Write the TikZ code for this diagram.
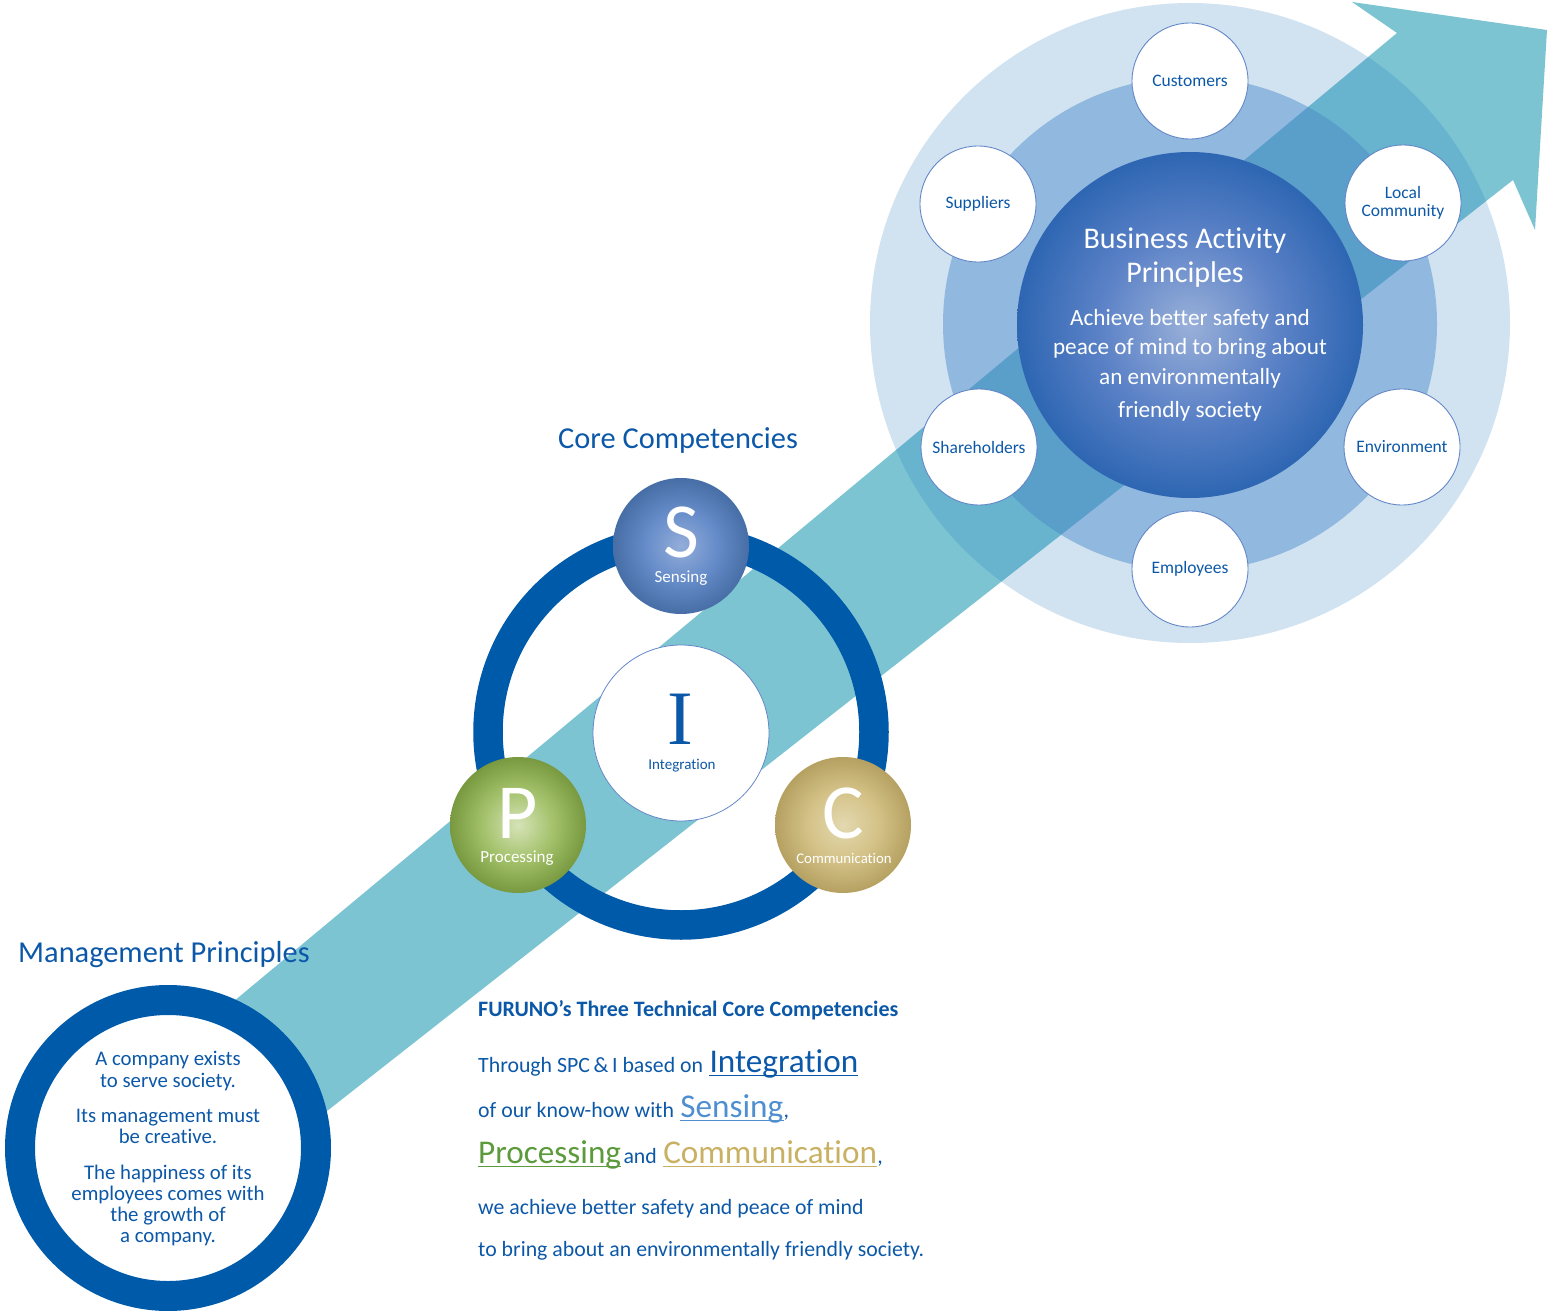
\documentclass[tikz,border=0pt]{standalone}
\usepackage{fontspec}
\setmainfont{Carlito}[Ligatures=NoCommon]
\newfontfamily\serifI{Liberation Serif}

\definecolor{ringblue}{RGB}{0,90,170}
\definecolor{txtblue}{RGB}{12,88,168}
\definecolor{arrowcyan}{RGB}{125,196,211}
\definecolor{outerring}{RGB}{23,115,185}
\definecolor{midring}{RGB}{75,135,200}
\definecolor{edgeblue}{RGB}{100,135,200}
\definecolor{senseblue}{RGB}{79,143,208}
\definecolor{procgreen}{RGB}{92,154,60}
\definecolor{commgold}{RGB}{201,177,99}

% ball shadings
\pgfdeclareradialshading{sensingball}{\pgfpoint{0bp}{0bp}}{rgb(0bp)=(0.58,0.68,0.85); rgb(13bp)=(0.40,0.55,0.79); rgb(25bp)=(0.28,0.43,0.65); rgb(50bp)=(0.28,0.43,0.65)}
\pgfdeclareradialshading{processball}{\pgfpoint{0bp}{0bp}}{rgb(0bp)=(0.84,0.89,0.72); rgb(13bp)=(0.64,0.76,0.42); rgb(25bp)=(0.47,0.60,0.25); rgb(50bp)=(0.47,0.60,0.25)}
\pgfdeclareradialshading{commball}{\pgfpoint{0bp}{0bp}}{rgb(0bp)=(0.89,0.85,0.69); rgb(13bp)=(0.83,0.76,0.53); rgb(25bp)=(0.71,0.63,0.38); rgb(50bp)=(0.71,0.63,0.38)}
\pgfdeclareradialshading{bizball}{\pgfpoint{0bp}{0bp}}{rgb(0bp)=(0.60,0.69,0.85); rgb(13bp)=(0.36,0.51,0.78); rgb(25bp)=(0.18,0.40,0.70); rgb(50bp)=(0.18,0.40,0.70)}

\begin{document}
\begin{tikzpicture}[x=1pt, y=-1pt,
    stake/.style={circle, fill=white, draw=edgeblue, line width=0.9pt, minimum size=116pt,
      inner sep=0pt, align=center, text=txtblue, font=\fontsize{17.5}{20}\selectfont},
    ball/.style={circle, minimum size=136pt, inner sep=0pt},
    bigletter/.style={anchor=base, text=white, inner sep=0pt, text height=50pt, text depth=0pt,
      font=\fontsize{78}{78}\selectfont},
    balllabel/.style={anchor=base, text=white, inner sep=0pt, text height=11pt, text depth=3pt,
      font=\fontsize{17}{18}\selectfont},
    biztext/.style={anchor=base, text=white, inner sep=0pt, font=\fontsize{23.2}{24}\selectfont},
    mgmttext/.style={anchor=base, text=txtblue, inner sep=0pt, font=\fontsize{20.8}{22}\selectfont},
    bodytext/.style={anchor=base west, text=txtblue, inner sep=0pt, font=\fontsize{21.8}{24}\selectfont},
    bigword/.style={anchor=base west, inner sep=0pt, font=\fontsize{33.2}{34}\selectfont},
    titletext/.style={anchor=base west, text=txtblue, inner sep=0pt, font=\fontsize{30.4}{32}\selectfont}]
  \useasboundingbox (0,0) rectangle (1551,1311);

  % Big arrow
  \fill[arrowcyan] (150,1071) -- (1397,33) -- (1352,2) -- (1547,30) -- (1535,230)
    -- (1513,180) -- (150,1250) -- cycle;

  % Business activity rings
  \fill[outerring, fill opacity=0.2] (1190,323) circle[radius=320];
  \fill[midring, fill opacity=0.47] (1190,324) circle[radius=247];
  \node[circle, minimum size=346pt, inner sep=0pt, shading=bizball] (bizBall) at (1190,325) {};

  \node[biztext, font=\fontsize{30}{32}\selectfont] (bizTitleA) at (1185,248) {Business Activity};
  \node[biztext, font=\fontsize{30}{32}\selectfont] (bizTitleB) at (1185,282) {Principles};
  \node[biztext] (bizLineA) at (1190,325) {Achieve better safety and};
  \node[biztext] (bizLineB) at (1190,354) {peace of mind to bring about};
  \node[biztext] (bizLineC) at (1190,384) {an environmentally};
  \node[biztext] (bizLineD) at (1190,417) {friendly society};

  % Stakeholders
  \node[stake] (customers) at (1190,81) {Customers};
  \node[stake] (suppliers) at (978,204) {Suppliers};
  \node[stake] (community) at (1403,203) {Local\\[-2pt]Community};
  \node[stake] (shareholders) at (979,447) {Shareholders};
  \node[stake] (environment) at (1402,447) {Environment};
  \node[stake] (employees) at (1190,569) {Employees};

  % Core competencies ring
  \node[titletext] (coreTitle) at (558,448) {Core Competencies};
  \draw[ringblue, line width=29.5pt] (681,732) circle[radius=193];
  \node[circle, fill=white, draw=edgeblue, line width=0.8pt, minimum size=176pt, inner sep=0pt] (intBall) at (681,733) {};
  \node[anchor=base, text=txtblue, inner sep=0pt, text height=51pt, text depth=0pt,
    font=\serifI\fontsize{77}{77}\selectfont] (iLetter) at (680,744) {I};
  \node[balllabel, text=txtblue, font=\fontsize{15}{16}\selectfont] (intLabel) at (682,769) {Integration};

  \node[ball, shading=sensingball] (sBall) at (681,546) {};
  \node[bigletter] (sLetter) at (681,557) {S};
  \node[balllabel] (sLabel) at (681,582) {Sensing};

  \node[ball, shading=processball] (pBall) at (518,825) {};
  \node[bigletter] (pLetter) at (518,838) {P};
  \node[balllabel] (pLabel) at (517,862) {Processing};

  \node[ball, shading=commball] (cBall) at (843,825) {};
  \node[bigletter] (cLetter) at (843,838) {C};
  \node[balllabel, font=\fontsize{14.8}{16}\selectfont] (cLabel) at (844,863) {Communication};

  % Management principles
  \node[titletext] (mgmtTitle) at (18,962) {Management Principles};
  \draw[ringblue, line width=30pt, fill=white] (168,1148) circle[radius=148];
  \foreach \yy/\txt [count=\i] in {1065/A company exists, 1087/to serve society.,
      1122/Its management must, 1143/be creative., 1179/The happiness of its,
      1200/employees comes with, 1221/the growth of, 1242/a company.}
    \node[mgmttext] (mgmtLine\i) at (168,\yy) {\txt};

  % Text block
  \node[bodytext, font=\bfseries\fontsize{22}{24}\selectfont] (furunoTitle) at (478,1016) {FURUNO{\char"27}s Three Technical Core Competencies};

  \node[bodytext] (bodyA) at (478,1072) {Through SPC\,\&\,I based on};
  \node[bigword, text=txtblue] (integWord) at ([xshift=6pt]bodyA.base east) {Integration};
  \draw[txtblue, line width=1.5pt] ([yshift=-3.5pt]integWord.base west) -- ([yshift=-3.5pt]integWord.base east);

  \node[bodytext] (bodyB) at (478,1117) {of our know-how with};
  \node[bigword, text=senseblue] (senseWord) at ([xshift=6pt]bodyB.base east) {Sensing};
  \draw[senseblue, line width=1.5pt] ([yshift=-3.5pt]senseWord.base west) -- ([yshift=-3.5pt]senseWord.base east);
  \node[bodytext] (commaA) at (senseWord.base east) {,};

  \node[bigword, text=procgreen] (procWord) at (478,1163) {Processing};
  \draw[procgreen, line width=1.5pt] ([yshift=-3.5pt]procWord.base west) -- ([yshift=-3.5pt]procWord.base east);
  \node[bodytext] (andWord) at ([xshift=2pt]procWord.base east) {and};
  \node[bigword, text=commgold] (commWord) at ([xshift=6pt]andWord.base east) {Communication};
  \draw[commgold, line width=1.5pt] ([yshift=-3.5pt]commWord.base west) -- ([yshift=-3.5pt]commWord.base east);
  \node[bodytext] (commaB) at (commWord.base east) {,};

  \node[bodytext] (bodyC) at (478,1214) {we achieve better safety and peace of mind};
  \node[bodytext] (bodyD) at (478,1256) {to bring about an environmentally friendly society.};
\end{tikzpicture}
\end{document}
